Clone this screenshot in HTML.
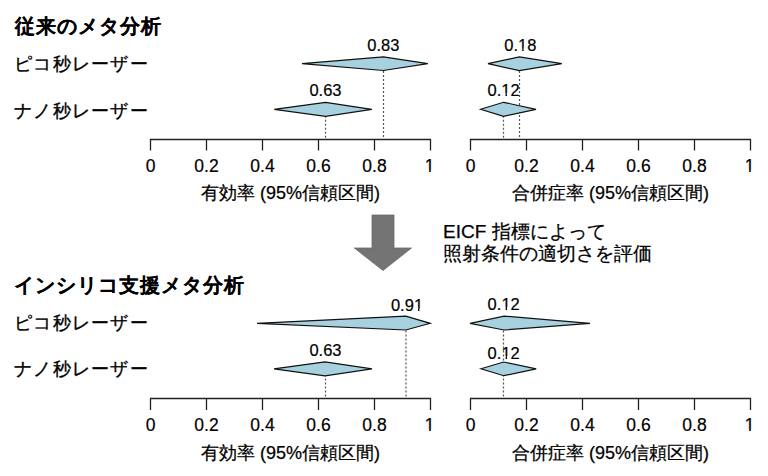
<!DOCTYPE html>
<html><head><meta charset="utf-8">
<style>
html,body{margin:0;padding:0;background:#fff;}
body{width:768px;height:476px;position:relative;overflow:hidden;font-family:"Liberation Sans",sans-serif;color:#000;}
.t{position:absolute;white-space:nowrap;line-height:1;}
.h{font-weight:bold;font-size:20px;letter-spacing:1px;-webkit-text-stroke:0.05px #000;}
.lab{font-size:18px;letter-spacing:1.3px;-webkit-text-stroke:0.35px #000;}
.v{font-size:16.5px;-webkit-text-stroke:0.2px #000;transform:translateX(-50%);}
.tk{font-size:17.5px;-webkit-text-stroke:0.2px #000;transform:translateX(-50%);}
.ax{font-size:18px;-webkit-text-stroke:0.25px #000;transform:translateX(-50%);}
.note{font-size:19px;-webkit-text-stroke:0.25px #000;}
.one{display:inline-block;clip-path:polygon(-1em -1em,2em -1em,2em 0.70em,0.3398em 0.70em,0.3398em 2em,0.2515em 2em,0.2515em 0.70em,-1em 0.70em);}
svg{position:absolute;left:0;top:0;}
</style></head><body>
<svg width="768" height="476" viewBox="0 0 768 476">
<g stroke="#555" stroke-width="1.2" fill="none" stroke-dasharray="2,2">
<line x1="383.5" y1="59" x2="383.5" y2="139"/>
<line x1="325.5" y1="103.8" x2="325.5" y2="139"/>
<line x1="519.5" y1="59" x2="519.5" y2="139"/>
<line x1="503.5" y1="103.8" x2="503.5" y2="139"/>
<line x1="406" y1="318.4" x2="406" y2="398"/>
<line x1="325.5" y1="362.4" x2="325.5" y2="398"/>
<line x1="503.5" y1="318.4" x2="503.5" y2="398"/>
</g>
<g stroke="#111" stroke-width="1.2" fill="#a8d1e0" stroke-linejoin="miter">
<polygon points="302,63.7 383.4,56.8 427.8,63.7 383.4,70.5"/>
<polygon points="274.3,109.3 325.6,102.3 371.8,109.3 325.6,116.3"/>
<polygon points="488,63.7 519.4,56.9 561.8,63.7 519.4,70.6"/>
<polygon points="480.6,109.3 503.6,102.3 536,109.3 503.6,116.3"/>
<polygon points="257,323.3 405.8,316.1 430.2,323.3 405.8,330"/>
<polygon points="274,368.8 325,361.8 372,368.8 325,375.8"/>
<polygon points="470,323.3 504.1,316.1 590,323.3 504.1,330"/>
<polygon points="481,368.8 503.7,362 536.2,368.8 503.7,375.7"/>
</g>
<g stroke="#222" stroke-width="1.3" fill="none">
<path d="M150.5,150.5V139.5H430.5V150.5M206.5,139.5V150.5M262.5,139.5V150.5M318.5,139.5V150.5M374.5,139.5V150.5"/>
<path d="M470.5,150.5V139.5H750.5V150.5M526.5,139.5V150.5M582.5,139.5V150.5M638.5,139.5V150.5M694.5,139.5V150.5"/>
<path d="M150.5,410V398.5H430.5V410M206.5,398.5V410M262.5,398.5V410M318.5,398.5V410M374.5,398.5V410"/>
<path d="M470.5,410V398.5H750.5V410M526.5,398.5V410M582.5,398.5V410M638.5,398.5V410M694.5,398.5V410"/>
</g>
<polygon points="372,215 394,215 394,248 411.5,248 383,270.5 354.3,248 372,248" fill="#747474" stroke="#6a6a6a" stroke-width="0.8"/>
</svg>

<div class="t h" style="left:15px;top:16px">従来のメタ分析</div>
<div class="t lab" style="left:14px;top:55px">ピコ秒レーザー</div>
<div class="t lab" style="left:14px;top:102px">ナノ秒レーザー</div>

<div class="t v" style="left:383.4px;top:37px">0.83</div>
<div class="t v" style="left:325.5px;top:81.5px">0.63</div>
<div class="t v" style="left:520.3px;top:37px">0.<span class="one">1</span>8</div>
<div class="t v" style="left:503.6px;top:81.5px">0.<span class="one">1</span>2</div>

<div class="t tk" style="left:150.5px;top:157.7px">0</div>
<div class="t tk" style="left:206.5px;top:157.7px">0.2</div>
<div class="t tk" style="left:262.5px;top:157.7px">0.4</div>
<div class="t tk" style="left:318.5px;top:157.7px">0.6</div>
<div class="t tk" style="left:374.5px;top:157.7px">0.8</div>
<div class="t tk" style="left:429.7px;top:157.7px"><span class="one">1</span></div>
<div class="t tk" style="left:470.5px;top:157.7px">0</div>
<div class="t tk" style="left:526.5px;top:157.7px">0.2</div>
<div class="t tk" style="left:582.5px;top:157.7px">0.4</div>
<div class="t tk" style="left:638.5px;top:157.7px">0.6</div>
<div class="t tk" style="left:694.5px;top:157.7px">0.8</div>
<div class="t tk" style="left:749.7px;top:157.7px"><span class="one">1</span></div>
<div class="t ax" style="left:290.5px;top:183.5px">有効率 (95%信頼区間)</div>
<div class="t ax" style="left:610.5px;top:183.5px">合併症率 (95%信頼区間)</div>

<div class="t note" style="left:443px;top:221.5px">EICF 指標によって</div>
<div class="t note" style="left:443px;top:243.5px">照射条件の適切さを評価</div>

<div class="t h" style="left:14px;top:275px">インシリコ支援メタ分析</div>
<div class="t lab" style="left:14px;top:314px">ピコ秒レーザー</div>
<div class="t lab" style="left:14px;top:360px">ナノ秒レーザー</div>

<div class="t v" style="left:407px;top:297px">0.9<span class="one">1</span></div>
<div class="t v" style="left:325.5px;top:342px">0.63</div>
<div class="t v" style="left:503.7px;top:295.6px">0.<span class="one">1</span>2</div>
<div class="t v" style="left:503.7px;top:344.5px">0.<span class="one">1</span>2</div>

<div class="t tk" style="left:150.5px;top:416.7px">0</div>
<div class="t tk" style="left:206.5px;top:416.7px">0.2</div>
<div class="t tk" style="left:262.5px;top:416.7px">0.4</div>
<div class="t tk" style="left:318.5px;top:416.7px">0.6</div>
<div class="t tk" style="left:374.5px;top:416.7px">0.8</div>
<div class="t tk" style="left:429.7px;top:416.7px"><span class="one">1</span></div>
<div class="t tk" style="left:470.5px;top:416.7px">0</div>
<div class="t tk" style="left:526.5px;top:416.7px">0.2</div>
<div class="t tk" style="left:582.5px;top:416.7px">0.4</div>
<div class="t tk" style="left:638.5px;top:416.7px">0.6</div>
<div class="t tk" style="left:694.5px;top:416.7px">0.8</div>
<div class="t tk" style="left:749.7px;top:416.7px"><span class="one">1</span></div>
<div class="t ax" style="left:290.5px;top:443.5px">有効率 (95%信頼区間)</div>
<div class="t ax" style="left:610.5px;top:443.5px">合併症率 (95%信頼区間)</div>
</body></html>
